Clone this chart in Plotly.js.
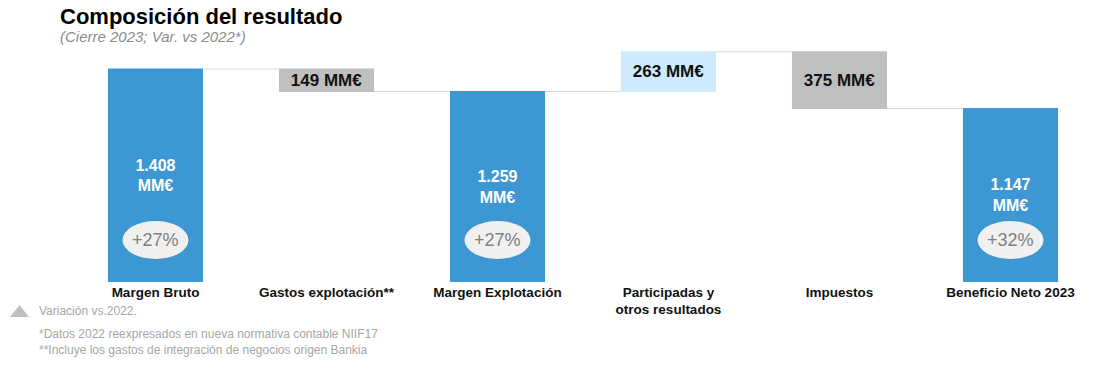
<!DOCTYPE html>
<html>
<head>
<meta charset="utf-8">
<script src="https://cdn.plot.ly/plotly-3.0.1.min.js"></script>
<style>html,body{margin:0;padding:0;background:#fff;}#chart{width:1100px;height:384px;}</style>
</head>
<body>
<div id="chart"></div>
<script>
const categories = ["Margen Bruto", "Gastos explotación**", "Margen Explotación", "Participadas y<br>otros resultados", "Impuestos", "Beneficio Neto 2023"];
const measures = ["absolute", "relative", "total", "relative", "relative", "total"];
const values = [1408, -149, 0, 263, -375, 0];
const barLabels = ["<b>1.408<br>MM€</b>", "<b>149 MM€</b>", "<b>1.259<br>MM€</b>", "<b>263 MM€</b>", "<b>375 MM€</b>", "<b>1.147<br>MM€</b>"];
const labelColors = ["#ffffff", "#111111", "#ffffff", "#111111", "#111111", "#ffffff"];
const labelSizes = [16, 17, 16, 17, 17, 16];
const variations = ["+27%", "", "+27%", "", "", "+32%"];
const variationLevel = 278;
const footnotes = ["*Datos 2022 reexpresados en nueva normativa contable NIIF17", "**Incluye los gastos de integración de negocios origen Bankia"];

const FONT = "Liberation Sans, Arial, sans-serif";

const trace = {
  type: "waterfall",
  x: categories,
  y: values,
  measure: measures,
  text: barLabels,
  textposition: "inside",
  insidetextanchor: "middle",
  constraintext: "none",
  textfont: {family: FONT, size: labelSizes, color: labelColors},
  totals: {marker: {color: "#3D97D3"}},
  decreasing: {marker: {color: "#BFBFBF"}},
  increasing: {marker: {color: "#CDEBFC"}},
  connector: {line: {color: "#D9D9D9", width: 1}},
  hoverinfo: "skip",
  cliponaxis: false
};

const shapes = [];
const annotations = [];
variations.forEach((v, i) => {
  if (!v) return;
  shapes.push({
    type: "circle", xref: "x", yref: "y",
    xsizemode: "pixel", ysizemode: "pixel",
    xanchor: categories[i], yanchor: variationLevel,
    x0: -33, x1: 33, y0: -19, y1: 19,
    fillcolor: "#F0F0F0", line: {width: 0}
  });
  annotations.push({
    xref: "x", yref: "y", x: categories[i], y: variationLevel,
    text: v, showarrow: false,
    font: {family: FONT, size: 18, color: "#808080"}
  });
});

// legend triangle
shapes.push({
  type: "path", xref: "paper", yref: "paper",
  path: "M -0.0585 -0.1446 L -0.0400 -0.1446 L -0.0492 -0.0950 Z",
  fillcolor: "#BFBFBF", line: {width: 0}
});

annotations.push({
  xref: "paper", yref: "paper", x: -0.0117, y: 1.099, xanchor: "left", yanchor: "middle",
  text: "<b>Composición del resultado</b>", showarrow: false,
  font: {family: FONT, size: 22, color: "#000000"}
});
annotations.push({
  xref: "paper", yref: "paper", x: -0.0117, y: 1.0165, xanchor: "left", yanchor: "middle",
  text: "<i>(Cierre 2023; Var. vs 2022*)</i>", showarrow: false,
  font: {family: FONT, size: 15, color: "#8C8C8C"}
});
annotations.push({
  xref: "paper", yref: "paper", x: -0.0322, y: -0.1198, xanchor: "left", yanchor: "middle",
  text: "Variación vs.2022.", showarrow: false,
  font: {family: FONT, size: 12, color: "#A6A6A6"}
});
footnotes.forEach((t, i) => {
  annotations.push({
    xref: "paper", yref: "paper", x: -0.0322, y: -0.215 - i * 0.066, xanchor: "left", yanchor: "middle",
    text: t, showarrow: false,
    font: {family: FONT, size: 12, color: "#A6A6A6"}
  });
});

const layout = {
  width: 1100, height: 384,
  margin: {l: 70, r: 4, t: 40, b: 102},
  paper_bgcolor: "#ffffff", plot_bgcolor: "#ffffff",
  showlegend: false,
  waterfallgap: 0.444,
  xaxis: {
    type: "category", showgrid: false, zeroline: false, showline: false,
    ticks: "", tickfont: {family: FONT, size: 13.5, color: "#111111", weight: "bold"},
    fixedrange: true
  },
  yaxis: {visible: false, range: [0, 1600], fixedrange: true},
  shapes: shapes,
  annotations: annotations
};

Plotly.newPlot("chart", [trace], layout, {displayModeBar: false, staticPlot: true});
</script>
</body>
</html>
